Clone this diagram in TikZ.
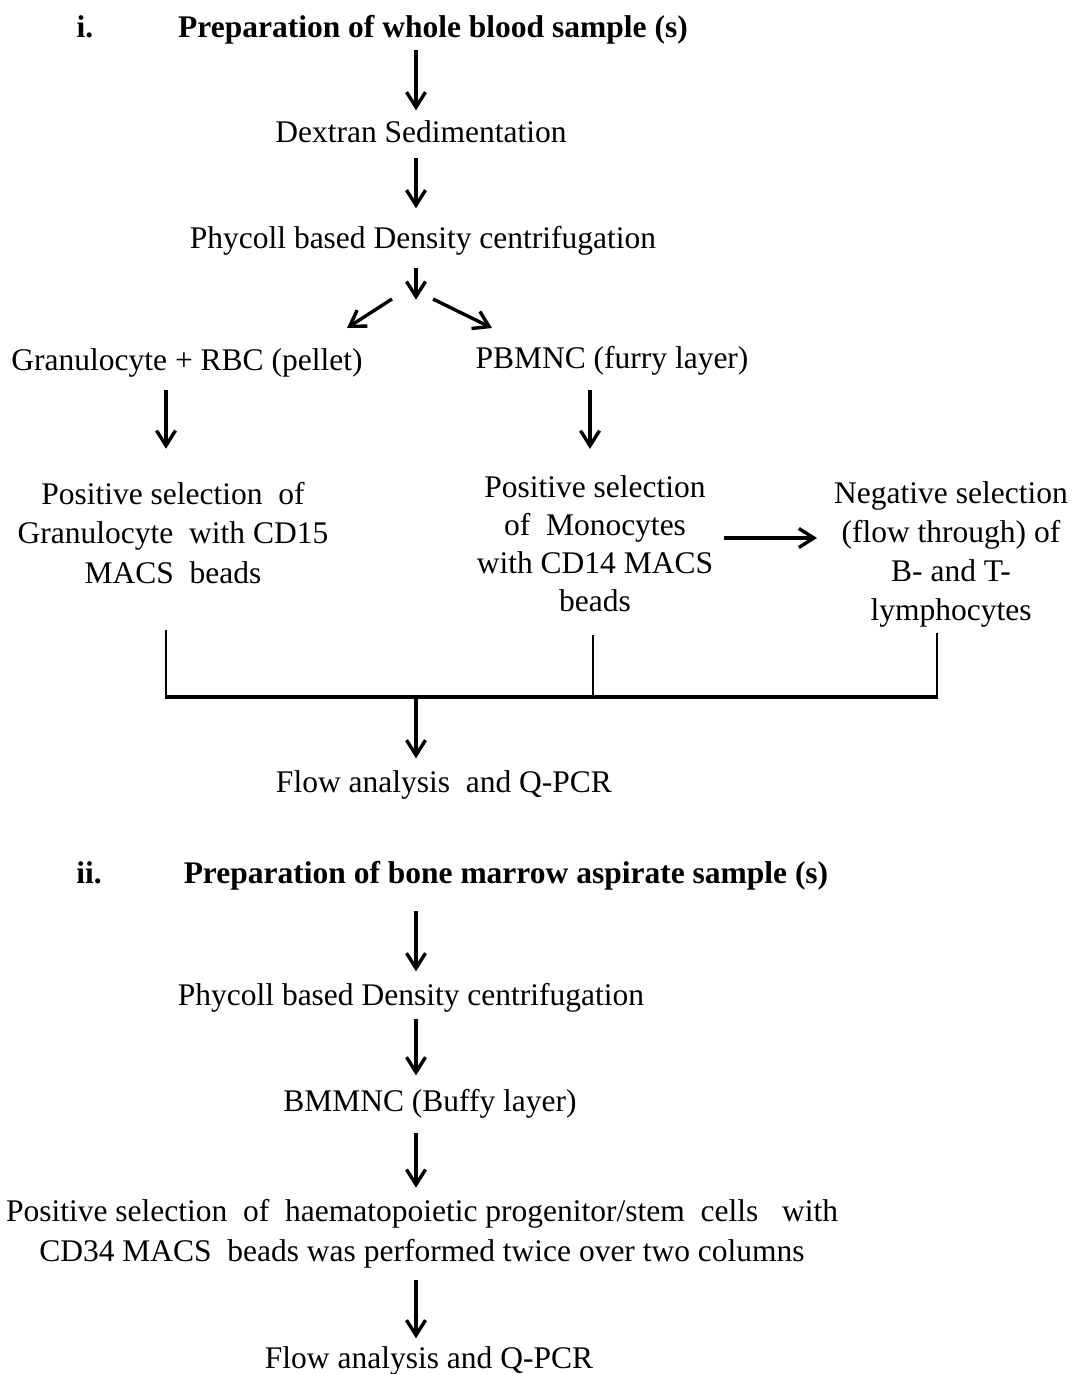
\documentclass[tikz,border=0pt]{standalone}
\usepackage{fontspec}
\setmainfont{Liberation Serif}
\usetikzlibrary{arrows.meta}
\newcommand{\fstrut}{\rule[-7pt]{0pt}{29pt}}
\begin{document}
\begin{tikzpicture}[x=1pt,y=-1pt,
  txt/.style={inner sep=0pt, text height=22pt, text depth=7pt, font=\fontsize{31.5}{39}\selectfont},
  mtxt/.style={inner sep=0pt, align=center},
  ttl/.style={txt, font=\fontsize{31.5}{39}\selectfont\bfseries},
  arr/.style={line width=3.4pt, -{Straight Barb[length=15pt,width=19pt,line width=3.4pt]}},
  thinln/.style={line width=1.8pt},
  barln/.style={line width=4.2pt}]
\useasboundingbox[fill=white] (0,0) rectangle (1072,1374);
\coordinate (ax) at (416,0);
% part i
\node[ttl] (r1) at (85,30) {i.};
\node[ttl] (t1) at (433,30) {Preparation of whole blood sample (s)};
\node[txt] (dex) at (421,135) {Dextran Sedimentation};
\node[txt] (phy1) at (423,241) {Phycoll based Density centrifugation};
\node[txt] (gran) at (187,363) {Granulocyte + RBC (pellet)};
\node[txt] (pbm) at (612,361) {PBMNC (furry layer)};
\node[mtxt, font=\fontsize{31.5}{39.5}\selectfont] (posg) at (173,536) {\fstrut Positive selection\ \ of\\Granulocyte\ \ with CD15\\MACS\ \ beads\fstrut};
\node[mtxt, font=\fontsize{31.5}{38.3}\selectfont] (posm) at (595,547) {\fstrut Positive selection\\of\ \ Monocytes\\with CD14 MACS\\beads\fstrut};
\node[mtxt, font=\fontsize{31.5}{38.7}\selectfont] (neg) at (951,554.5) {\fstrut Negative selection\\(flow through) of\\B- and T-\\lymphocytes\fstrut};
\node[txt] (flow1) at (444,785) {Flow analysis\ \ and Q-PCR};
% part ii
\node[ttl] (r2) at (89,876) {ii.};
\node[ttl] (t2) at (506,876) {Preparation of bone marrow aspirate sample (s)};
\node[txt] (phy2) at (411,998) {Phycoll based Density centrifugation};
\node[txt] (bmm) at (430,1104) {BMMNC (Buffy layer)};
\node[mtxt, font=\fontsize{31.5}{40}\selectfont] (pos2) at (422,1233.5) {\fstrut Positive selection\ \ of\ \ haematopoietic progenitor/stem\ \ cells\ \ \ with\\CD34 MACS\ \ beads was performed twice over two columns\fstrut};
\node[txt] (flow2) at (429,1361) {Flow analysis and Q-PCR};
% connectors part i
\draw[arr, shorten <=5pt, shorten >=10pt] (t1.south -| ax) -- (dex.north -| ax);
\draw[arr, shorten <=8pt, shorten >=18pt] (dex.south -| ax) -- (phy1.north -| ax);
\draw[arr, shorten <=12pt] (phy1.south -| ax) -- ++(0,44);
\coordinate (dl1) at (392,299);
\coordinate (dl2) at (347,328);
\coordinate (dr1) at (433,299);
\coordinate (dr2) at (492,328);
\draw[arr] (dl1) -- (dl2);
\draw[arr] (dr1) -- (dr2);
\coordinate (gx) at (166,0);
\coordinate (mx) at (590,0);
\draw[arr, shorten <=12pt, shorten >=33pt] (gran.south -| gx) -- (posg.north -| gx);
\draw[arr, shorten <=14pt, shorten >=26pt] (pbm.south -| mx) -- (posm.north -| mx);
\coordinate (hy) at (0,538);
\draw[arr, shorten <=11pt, shorten >=17pt] (posm.east |- hy) -- (neg.west |- hy);
\coordinate (bl) at (166,697);
\coordinate (bm) at (593,697);
\coordinate (br) at (937,697);
\draw[thinln, shorten <=40pt] (bl |- posg.south) -- (bl);
\draw[thinln, shorten <=16pt] (bm |- posm.south) -- (bm);
\draw[thinln, shorten <=6pt] (br |- neg.south) -- (br);
\draw[barln] ([xshift=-0.9pt]bl) -- ([xshift=0.9pt]br);
\draw[arr, shorten >=12pt] (bl -| ax) -- (flow1.north -| ax);
% connectors part ii
\draw[arr, shorten <=20pt, shorten >=12pt] (t2.south -| ax) -- (phy2.north -| ax);
\draw[arr, shorten <=6pt, shorten >=14pt] (phy2.south -| ax) -- (bmm.north -| ax);
\draw[arr, shorten <=14pt, shorten >=11pt] (bmm.south -| ax) -- (pos2.north -| ax);
\draw[arr, shorten <=12pt, shorten >=8pt] (pos2.south -| ax) -- (flow2.north -| ax);
\end{tikzpicture}
\end{document}
